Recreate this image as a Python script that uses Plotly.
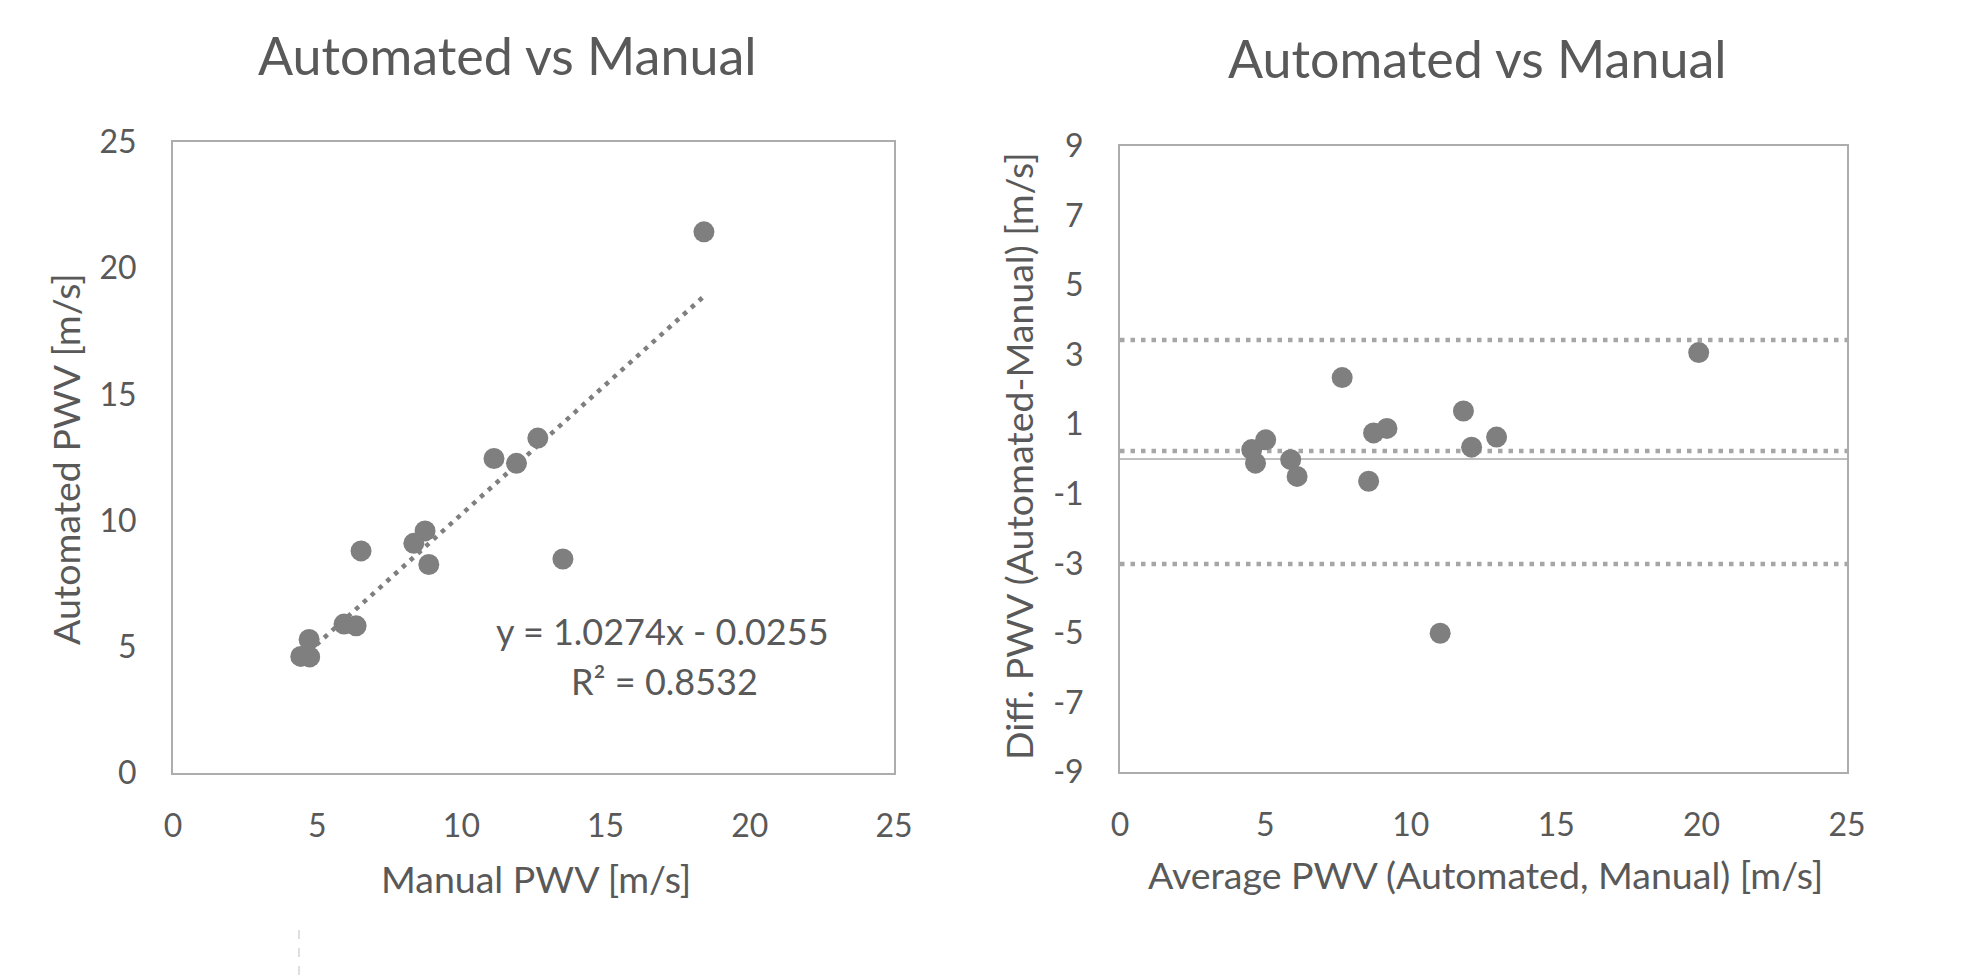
import plotly.graph_objects as go

# the page body has an 8px margin, so the figure is offset by (8, 8)
WIN_W, WIN_H = 1967, 975
OFF = 8
W, H = WIN_W - OFF, WIN_H - OFF

# ---- data ----
manual_pwv = [18.41, 12.65, 11.13, 11.91, 13.52, 8.74, 8.35, 8.87, 6.52, 5.93, 6.35, 4.72, 4.43, 4.74]
automated_pwv = [21.44, 13.27, 12.46, 12.27, 8.48, 9.59, 9.10, 8.26, 8.80, 5.90, 5.83, 5.29, 4.62, 4.60]

avg_pwv = [19.90, 7.64, 11.81, 9.18, 8.72, 12.95, 12.09, 5.01, 4.53, 4.66, 5.87, 6.09, 8.55, 11.01]
diff_pwv = [3.06, 2.34, 1.38, 0.88, 0.75, 0.63, 0.34, 0.55, 0.27, -0.12, -0.02, -0.50, -0.64, -5.01]

trend_slope = 1.0274
trend_intercept = -0.0255
r_squared = 0.8532

mean_diff = 0.23
upper_loa = 3.42
lower_loa = -3.02

x_ticks = [0, 5, 10, 15, 20, 25]
x_tick_labels = ["0", "5", "10", "15", "20", "25"]
y1_ticks = [0, 5, 10, 15, 20, 25]
y1_tick_labels = ["0", "5", "10", "15", "20", "25"]
y2_ticks = [-9, -7, -5, -3, -1, 1, 3, 5, 7, 9]
y2_tick_labels = ["-9", "-7", "-5", "-3", "-1", "1", "3", "5", "7", "9"]

title_text = "Automated vs Manual"

# ---- styles ----
FONT = "Lato"
TXT = "#595959"
MARK = "#7F7F7F"
BORDER = "#ADADAD"
DOT = "4.5px,6px"


def px(x):
    return (x - OFF) / W


def py(y):
    return 1 - (y - OFF) / H


fig = go.Figure()

# trendline (left)
tx = [min(manual_pwv), max(manual_pwv)]
ty = [trend_slope * v + trend_intercept for v in tx]
fig.add_trace(go.Scatter(x=tx, y=ty, mode="lines", xaxis="x", yaxis="y",
                         line=dict(color=MARK, width=4.5, dash=DOT), hoverinfo="skip"))
fig.add_trace(go.Scatter(x=manual_pwv, y=automated_pwv, mode="markers", xaxis="x", yaxis="y",
                         marker=dict(color=MARK, size=21, line=dict(width=0))))

# Bland-Altman (right)
xr = [0, 25]
fig.add_trace(go.Scatter(x=xr, y=[0, 0], mode="lines", xaxis="x2", yaxis="y2",
                         line=dict(color="#BFBFBF", width=2), hoverinfo="skip"))
for lvl in (upper_loa, mean_diff, lower_loa):
    fig.add_trace(go.Scatter(x=xr, y=[lvl, lvl], mode="lines", xaxis="x2", yaxis="y2",
                             line=dict(color="#A6A6A6", width=4.5, dash=DOT), hoverinfo="skip"))
fig.add_trace(go.Scatter(x=avg_pwv, y=diff_pwv, mode="markers", xaxis="x2", yaxis="y2",
                         marker=dict(color=MARK, size=21, line=dict(width=0))))

tickfont = dict(family=FONT, size=32, color=TXT)
common = dict(showline=True, mirror=True, linecolor=BORDER, linewidth=2, showgrid=False,
              zeroline=False, ticks="", tickfont=tickfont, tickmode="array", automargin=False)

fig.update_layout(
    template="none",
    width=W, height=H, margin=dict(l=0, r=0, t=0, b=0, pad=0, autoexpand=False),
    paper_bgcolor="white", plot_bgcolor="white", showlegend=False,
    font=dict(family=FONT, color=TXT),
    xaxis=dict(domain=[px(173), px(894)], range=[0, 25], tickvals=x_ticks, ticktext=x_tick_labels,
               anchor="y", ticklabelstandoff=24, **common),
    yaxis=dict(domain=[py(773), py(142)], range=[0, 25], tickvals=y1_ticks, ticktext=y1_tick_labels,
               anchor="x", ticklabelstandoff=28, **common),
    xaxis2=dict(domain=[px(1120), px(1847)], range=[0, 25], tickvals=x_ticks, ticktext=x_tick_labels,
                anchor="y2", ticklabelstandoff=24, **common),
    yaxis2=dict(domain=[py(772), py(146)], range=[-9, 9], tickvals=y2_ticks, ticktext=y2_tick_labels,
                anchor="x2", ticklabelstandoff=28, **common),
)


def ann(text, x, y, size, angle=0):
    fig.add_annotation(text=text, x=px(x), y=py(y), xref="paper", yref="paper",
                       xanchor="center", yanchor="middle", showarrow=False, textangle=angle,
                       font=dict(family=FONT, size=size, color=TXT))


ann(title_text, 507, 55, 52)
ann(title_text, 1477, 58, 52)
ann("Manual PWV [m/s]", 536, 878, 37.5)
ann("Automated PWV [m/s]", 66, 459, 37.5, -90)
ann("Average PWV (Automated, Manual) [m/s]", 1485, 874, 37.5)
ann("Diff. PWV (Automated-Manual) [m/s]", 1019, 456, 37.5, -90)
ann(f"y = {trend_slope}x - {abs(trend_intercept)}", 662, 631, 36)
ann(f"R² = {r_squared}", 664, 681, 36)

# small dashed artifact at bottom
fig.add_shape(type="line", xref="paper", yref="paper", x0=px(299), x1=px(299), y0=0, y1=py(922),
              line=dict(color="#BFBFBF", width=1, dash="dash"))

fig.write_html("out.html")
